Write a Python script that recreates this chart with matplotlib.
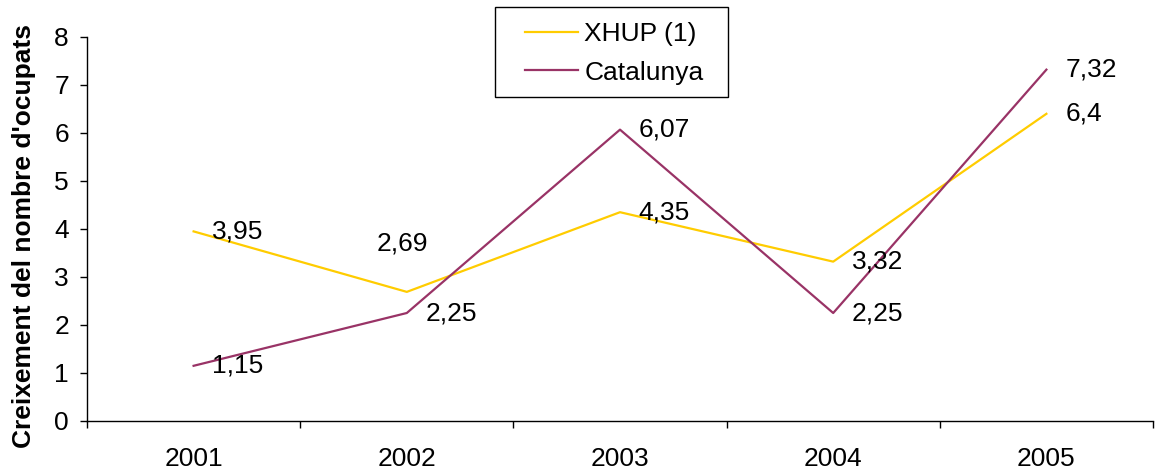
import matplotlib.pyplot as plt
from matplotlib.patches import Rectangle

plt.rcParams['font.family'] = ['Liberation Sans', 'DejaVu Sans']

years = ['2001', '2002', '2003', '2004', '2005']
xhup = [3.95, 2.69, 4.35, 3.32, 6.4]
catalunya = [1.15, 2.25, 6.07, 2.25, 7.32]
xhup_labels = ['3,95', '2,69', '4,35', '3,32', '6,4']
cat_labels = ['1,15', '2,25', '6,07', '2,25', '7,32']

W, H = 1157, 476
fs = 19
fig = plt.figure(figsize=(W / 100, H / 100), dpi=100)
ax = fig.add_axes([87 / W, 1 - 421 / H, (1153 - 87) / W, (421 - 37) / H])

x = range(len(years))
ax.plot(x, xhup, color='#FFCC00', lw=1.6, label='XHUP (1)')
ax.plot(x, catalunya, color='#993366', lw=1.6, label='Catalunya')

# data labels, right of the point (2002 XHUP sits above it)
for i in x:
    if i == 1:
        ax.annotate(xhup_labels[i], (i, xhup[i]), xytext=(-3, 35), textcoords='offset points',
                    ha='center', va='center', fontsize=fs)
    else:
        ax.annotate(xhup_labels[i], (i, xhup[i]), xytext=(13.5, 0), textcoords='offset points',
                    ha='left', va='center', fontsize=fs)
    ax.annotate(cat_labels[i], (i, catalunya[i]), xytext=(13.5, 0), textcoords='offset points',
                ha='left', va='center', fontsize=fs)

ax.set_xlim(-0.5, len(years) - 0.5)
ax.set_ylim(0, 8)
ax.set_yticks(range(9))
ax.set_xticks(list(x))
ax.set_xticklabels(years)
ax.set_xticks([i - 0.5 for i in range(len(years) + 1)], minor=True)
ax.tick_params(axis='x', which='major', length=0, pad=19, labelsize=fs)
ax.tick_params(axis='x', which='minor', length=5, width=1, color='black')
ax.tick_params(axis='y', length=5, width=1, pad=8, labelsize=fs)

for s in ['top', 'right']:
    ax.spines[s].set_visible(False)
for s in ['left', 'bottom']:
    ax.spines[s].set_linewidth(1.0)
    ax.spines[s].set_color('black')

fig.text(24 / W, 1 - 236 / H, "Creixement del nombre d'ocupats", rotation=90,
         ha='center', va='center', fontsize=fs, fontweight='bold')

# legend box
fig.patches.append(Rectangle((495 / W, 1 - 97 / H), (728 - 495) / W, 90 / H,
                             transform=fig.transFigure, fill=False, edgecolor='black', lw=1.0))
fig.legend(loc='upper left', bbox_to_anchor=(525 / W, 1 - 22 / H), frameon=False,
           borderpad=0, borderaxespad=0, handlelength=2.0, handletextpad=0.25,
           labelspacing=0.55, fontsize=fs)

fig.savefig('out.png', dpi=100)
